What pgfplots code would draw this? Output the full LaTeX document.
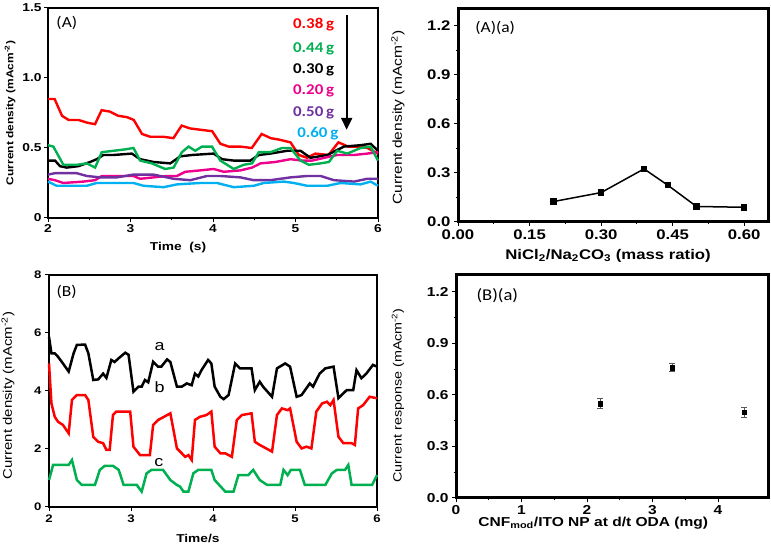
\documentclass[border=0pt]{standalone}
\usepackage{fontspec}
\usepackage{graphicx}
\setmainfont{Liberation Sans}
\newfontfamily\carl{Carlito}
\usepackage{pgfplots}
\pgfplotsset{compat=1.18}
\usetikzlibrary{arrows.meta}
\definecolor{cred}{RGB}{255,0,0}
\definecolor{cgreen}{RGB}{0,176,80}
\definecolor{cpink}{RGB}{236,0,140}
\definecolor{cpurple}{RGB}{112,48,160}
\definecolor{cblue}{RGB}{0,176,240}
\newcommand{\fs}[1]{\fontsize{#1}{#1}\selectfont}
\newcommand{\sx}[1]{\scalebox{1.2}[1]{#1}}
\newcommand{\scc}[1]{\scalebox{1.13}[1]{#1}}
\newcommand{\tb}[1]{\scalebox{1.2}[1]{\bfseries #1}}
\begin{document}
\begin{tikzpicture}[x=1bp,y=1bp]
\path[use as bounding box] (0,0) rectangle (771,547);
\pgfplotsset{every axis/.append style={scale only axis, anchor=south west,
  tick align=outside, xtick pos=bottom, ytick pos=left, clip=false,
  major tick length=4bp, minor tick length=2.5bp, tick style={black, line width=1bp}}}
% Panel A
\begin{axis}[at={(48bp,329bp)}, width=330bp, height=210bp,
  xmin=2, xmax=6, ymin=0, ymax=1.5,
  axis line style={line width=2bp},
  xtick={2,3,4,5,6}, xticklabels={\tb{2},\tb{3},\tb{4},\tb{5},\tb{6}}, minor xtick={2.5,3.5,4.5,5.5},
  ytick={0,0.5,1,1.5}, yticklabels={\tb{0},\tb{0.5},\tb{1.0},\tb{1.5}},
  tick label style={font=\bfseries\fs{11.5}},
  xticklabel style={yshift=1bp}, yticklabel style={xshift=1bp},
  xlabel={\sx{Time\ \ (s)}}, ylabel={\sx{Current density (mAcm\textsuperscript{-2})}},
  xlabel style={font=\bfseries\fs{11.5}, at={(axis description cs:0.394,-0.143)}, anchor=center},
  ylabel style={font=\bfseries\fs{10}, at={(axis description cs:-0.115,0.5)}, anchor=center},
  every axis plot/.append style={line width=2.4bp}]
\addplot[cred] coordinates {(2.00,0.85)(2.08,0.85)(2.17,0.73)(2.25,0.70)(2.37,0.70)(2.48,0.68)(2.57,0.67)(2.65,0.77)(2.75,0.76)(2.85,0.73)(2.96,0.72)(3.04,0.70)(3.14,0.60)(3.24,0.58)(3.40,0.58)(3.52,0.57)(3.62,0.66)(3.72,0.64)(3.85,0.63)(3.99,0.62)(4.09,0.53)(4.19,0.51)(4.33,0.51)(4.47,0.50)(4.59,0.60)(4.70,0.57)(4.80,0.56)(4.94,0.54)(5.04,0.45)(5.14,0.43)(5.24,0.46)(5.40,0.45)(5.52,0.54)(5.64,0.51)(5.75,0.51)(5.87,0.50)(6.00,0.46)};
\addplot[black] coordinates {(2.00,0.41)(2.085,0.41)(2.146,0.37)(2.227,0.36)(2.368,0.37)(2.510,0.40)(2.591,0.42)(2.672,0.45)(2.794,0.45)(3.016,0.46)(3.117,0.42)(3.279,0.40)(3.482,0.39)(3.603,0.44)(3.745,0.45)(4.008,0.46)(4.109,0.42)(4.251,0.41)(4.453,0.41)(4.555,0.45)(4.696,0.46)(4.899,0.48)(5.061,0.48)(5.182,0.43)(5.385,0.45)(5.587,0.51)(5.789,0.52)(5.911,0.53)(6.0,0.48)};
\addplot[cpink] coordinates {(2.00,0.28)(2.085,0.27)(2.186,0.25)(2.429,0.26)(2.571,0.27)(2.652,0.30)(2.874,0.30)(3.036,0.30)(3.117,0.28)(3.279,0.29)(3.441,0.30)(3.563,0.30)(3.664,0.33)(3.846,0.34)(4.008,0.35)(4.130,0.33)(4.332,0.34)(4.474,0.36)(4.575,0.39)(4.757,0.40)(4.939,0.42)(5.081,0.41)(5.202,0.41)(5.425,0.44)(5.506,0.45)(5.709,0.45)(5.870,0.46)(6.0,0.47)};
\addplot[cpurple] coordinates {(2.00,0.31)(2.085,0.32)(2.348,0.32)(2.470,0.30)(2.632,0.29)(2.834,0.29)(3.036,0.31)(3.279,0.31)(3.522,0.28)(3.725,0.27)(3.927,0.30)(4.089,0.30)(4.332,0.29)(4.494,0.27)(4.696,0.27)(4.939,0.29)(5.142,0.30)(5.304,0.30)(5.466,0.27)(5.709,0.26)(5.870,0.28)(6.0,0.28)};
\addplot[cblue] coordinates {(2.00,0.26)(2.105,0.23)(2.267,0.23)(2.470,0.23)(2.591,0.25)(2.794,0.25)(3.036,0.25)(3.158,0.23)(3.401,0.22)(3.563,0.24)(3.846,0.25)(4.049,0.25)(4.251,0.22)(4.494,0.23)(4.615,0.25)(4.858,0.26)(4.980,0.25)(5.142,0.23)(5.385,0.23)(5.547,0.25)(5.789,0.24)(5.911,0.26)(6.0,0.23)};
\addplot[cgreen] coordinates {(2.00,0.52)(2.065,0.51)(2.186,0.38)(2.348,0.38)(2.470,0.39)(2.571,0.36)(2.652,0.47)(2.794,0.48)(2.935,0.49)(3.036,0.50)(3.117,0.41)(3.259,0.39)(3.421,0.35)(3.522,0.36)(3.623,0.47)(3.704,0.51)(3.785,0.48)(3.866,0.51)(3.988,0.51)(4.089,0.41)(4.251,0.35)(4.372,0.38)(4.474,0.39)(4.555,0.47)(4.696,0.47)(4.838,0.50)(4.939,0.50)(5.061,0.41)(5.162,0.38)(5.304,0.39)(5.405,0.40)(5.506,0.48)(5.628,0.46)(5.789,0.50)(5.911,0.51)(6.0,0.41)};
\node[anchor=west, font=\carl\fs{15.5}] at (axis cs:2.06,1.39) {\scc{(A)}};
\node[font=\carl\bfseries\fs{15}, text=cred] at (axis cs:5.22,1.38) {\scc{0.38\,g}};
\node[font=\carl\bfseries\fs{15}, text=cgreen] at (axis cs:5.22,1.21) {\scc{0.44\,g}};
\node[font=\carl\bfseries\fs{15}, text=black] at (axis cs:5.22,1.057) {\scc{0.30\,g}};
\node[font=\carl\bfseries\fs{15}, text=cpink] at (axis cs:5.22,0.907) {\scc{0.20\,g}};
\node[font=\carl\bfseries\fs{15}, text=cpurple] at (axis cs:5.22,0.75) {\scc{0.50\,g}};
\node[font=\carl\bfseries\fs{15}, text=cblue] at (axis cs:5.27,0.60) {\scc{0.60\,g}};
\draw[line width=2.2bp, -{Triangle[length=12bp,width=11bp]}] (axis cs:5.62,1.45) -- (axis cs:5.62,0.63);
\end{axis}
% Panel A(a)
\begin{axis}[at={(458bp,325bp)}, width=310bp, height=213bp,
  xmin=0, xmax=0.65, ymin=0, ymax=1.304,
  axis line style={line width=3bp},
  xtick={0,0.15,0.3,0.45,0.6}, xticklabels={\tb{0.00},\tb{0.15},\tb{0.30},\tb{0.45},\tb{0.60}}, minor tick num=1,
  ytick={0,0.3,0.6,0.9,1.2}, yticklabels={\tb{0.0},\tb{0.3},\tb{0.6},\tb{0.9},\tb{1.2}},
  tick label style={font=\bfseries\fs{14}},
  xlabel={\sx{NiCl\textsubscript{2}/Na\textsubscript{2}CO\textsubscript{3} (mass ratio)}},
  ylabel={\sx{Current density (mAcm\textsuperscript{-2})}},
  xlabel style={font=\bfseries\fs{14}, at={(axis description cs:0.484,-0.16)}, anchor=center},
  ylabel style={font=\fs{13}, at={(axis description cs:-0.194,0.49)}, anchor=center}]
\addplot[black, line width=1.5bp, mark=square*, mark size=2.5bp] coordinates {(0.20,0.125)(0.30,0.18)(0.39,0.325)(0.44,0.225)(0.50,0.095)(0.60,0.09)};
\node[anchor=west, font=\carl\fs{15.5}] at (axis cs:0.029,1.19) {\scc{(A)(a)}};
\end{axis}
% Panel B
\begin{axis}[at={(49bp,40bp)}, width=328bp, height=232bp,
  xmin=2, xmax=6, ymin=0, ymax=8,
  axis line style={line width=2.5bp},
  xtick={2,3,4,5,6}, xticklabels={\tb{2},\tb{3},\tb{4},\tb{5},\tb{6}},
  ytick={0,2,4,6,8}, yticklabels={\tb{0},\tb{2},\tb{4},\tb{6},\tb{8}},
  tick label style={font=\bfseries\fs{11}},
  xlabel={\sx{Time/s}}, ylabel={\sx{Current density (mAcm\textsuperscript{-2})}},
  xlabel style={font=\bfseries\fs{11.5}, at={(axis description cs:0.454,-0.134)}, anchor=center},
  ylabel style={font=\fs{12.5}, at={(axis description cs:-0.125,0.48)}, anchor=center},
  every axis plot/.append style={line width=2.5bp}]
\addplot[black] coordinates {(2.00,5.87)(2.03,5.3)(2.07,5.3)(2.11,5.18)(2.17,4.95)(2.24,4.67)(2.30,5.3)(2.34,5.59)(2.44,5.6)(2.48,5.3)(2.54,4.38)(2.60,4.4)(2.66,4.6)(2.70,4.45)(2.76,5.07)(2.80,5.0)(2.85,5.13)(2.93,5.32)(2.97,5.25)(3.03,3.98)(3.09,4.15)(3.13,4.15)(3.17,4.38)(3.21,4.3)(3.27,5.01)(3.33,4.84)(3.37,4.84)(3.44,5.09)(3.48,5.0)(3.56,4.15)(3.62,4.15)(3.68,4.26)(3.74,4.2)(3.78,4.6)(3.82,4.5)(3.86,4.72)(3.94,5.07)(3.98,4.95)(4.02,4.15)(4.09,3.8)(4.13,3.72)(4.19,3.86)(4.27,4.95)(4.33,4.78)(4.47,4.78)(4.51,4.03)(4.57,4.32)(4.61,4.15)(4.72,3.8)(4.78,4.78)(4.88,4.95)(4.94,4.84)(5.02,3.8)(5.08,3.86)(5.18,4.26)(5.22,4.15)(5.30,4.6)(5.37,4.78)(5.47,4.84)(5.53,3.75)(5.59,3.92)(5.63,4.03)(5.71,4.03)(5.75,4.72)(5.81,4.44)(5.87,4.6)(5.95,4.9)(6.0,4.84)};
\addplot[cred] coordinates {(2.00,4.95)(2.03,3.57)(2.07,3.11)(2.11,2.94)(2.17,2.83)(2.24,2.54)(2.28,3.69)(2.34,3.86)(2.44,3.86)(2.48,3.69)(2.54,2.42)(2.60,2.25)(2.66,2.2)(2.70,1.97)(2.74,1.97)(2.78,3.17)(2.82,3.29)(2.99,3.29)(3.03,2.08)(3.11,1.79)(3.23,1.79)(3.27,2.83)(3.33,3.0)(3.37,3.06)(3.48,3.23)(3.56,2.02)(3.62,1.85)(3.66,1.73)(3.70,1.79)(3.74,1.62)(3.78,3.0)(3.84,3.11)(3.92,3.17)(3.98,3.29)(4.02,2.08)(4.09,1.85)(4.15,1.85)(4.23,1.73)(4.29,3.0)(4.35,3.17)(4.47,3.23)(4.51,2.25)(4.57,2.14)(4.72,1.91)(4.78,3.17)(4.84,3.4)(4.91,3.34)(4.94,3.4)(5.02,2.25)(5.08,2.02)(5.14,2.08)(5.20,2.02)(5.26,3.29)(5.33,3.57)(5.39,3.63)(5.43,3.51)(5.47,3.69)(5.53,2.42)(5.59,2.2)(5.69,2.2)(5.73,2.14)(5.77,3.4)(5.83,3.51)(5.91,3.8)(6.0,3.75)};
\addplot[cgreen] coordinates {(2.00,0.93)(2.05,1.45)(2.24,1.45)(2.28,1.62)(2.34,0.93)(2.40,0.76)(2.56,0.76)(2.62,1.28)(2.68,1.42)(2.78,1.42)(2.85,1.28)(2.91,0.76)(3.07,0.76)(3.13,0.53)(3.19,1.16)(3.25,1.28)(3.39,1.28)(3.48,0.93)(3.56,0.76)(3.60,0.70)(3.64,0.53)(3.70,0.53)(3.76,1.16)(3.82,1.28)(3.98,1.28)(4.02,0.93)(4.15,0.53)(4.25,0.53)(4.31,1.1)(4.43,1.1)(4.49,1.28)(4.57,0.93)(4.66,0.76)(4.82,0.76)(4.86,1.28)(4.91,1.1)(4.95,1.28)(5.06,1.28)(5.12,0.76)(5.37,0.76)(5.45,1.16)(5.51,1.28)(5.61,1.28)(5.65,1.45)(5.69,0.76)(5.94,0.76)(6.0,1.1)};
\node[anchor=west, font=\carl\fs{15.5}] at (axis cs:2.05,7.41) {\scc{(B)}};
\node[font=\fs{15}] at (axis cs:3.35,5.52) {\sx{a}};
\node[font=\fs{15}] at (axis cs:3.35,4.14) {\sx{b}};
\node[font=\fs{15}] at (axis cs:3.34,1.52) {\sx{c}};
\end{axis}
% Panel B(a)
\begin{axis}[at={(456bp,49bp)}, width=312bp, height=223bp,
  xmin=0, xmax=4.763, ymin=0, ymax=1.299,
  axis line style={line width=3bp},
  xtick={0,1,2,3,4}, xticklabels={\tb{0},\tb{1},\tb{2},\tb{3},\tb{4}}, minor tick num=1,
  ytick={0,0.3,0.6,0.9,1.2}, yticklabels={\tb{0.0},\tb{0.3},\tb{0.6},\tb{0.9},\tb{1.2}},
  tick label style={font=\bfseries\fs{13}},
  xlabel={\sx{CNF\textsubscript{mod}/ITO NP at d/t ODA (mg)}},
  ylabel={\sx{Current response (mAcm\textsuperscript{-2})}},
  xlabel style={font=\bfseries\fs{13}, at={(axis description cs:0.44,-0.112)}, anchor=center},
  ylabel style={font=\fs{12}, at={(axis description cs:-0.186,0.46)}, anchor=center}]
\addplot[black, only marks, mark=square*, mark size=2.3bp,
  error bars/.cd, y dir=both, y explicit, error bar style={gray!70!black, line width=0.8bp},
  error mark options={rotate=90, mark size=3bp, gray!70!black, line width=0.8bp}]
  coordinates {(2.2,0.55) +- (0,0.03) (3.3,0.76) +- (0,0.025) (4.4,0.50) +- (0,0.03)};
\node[anchor=west, font=\carl\fs{16.5}] at (axis cs:0.26,1.18) {\scc{(B)(a)}};
\end{axis}
\end{tikzpicture}
\end{document}
